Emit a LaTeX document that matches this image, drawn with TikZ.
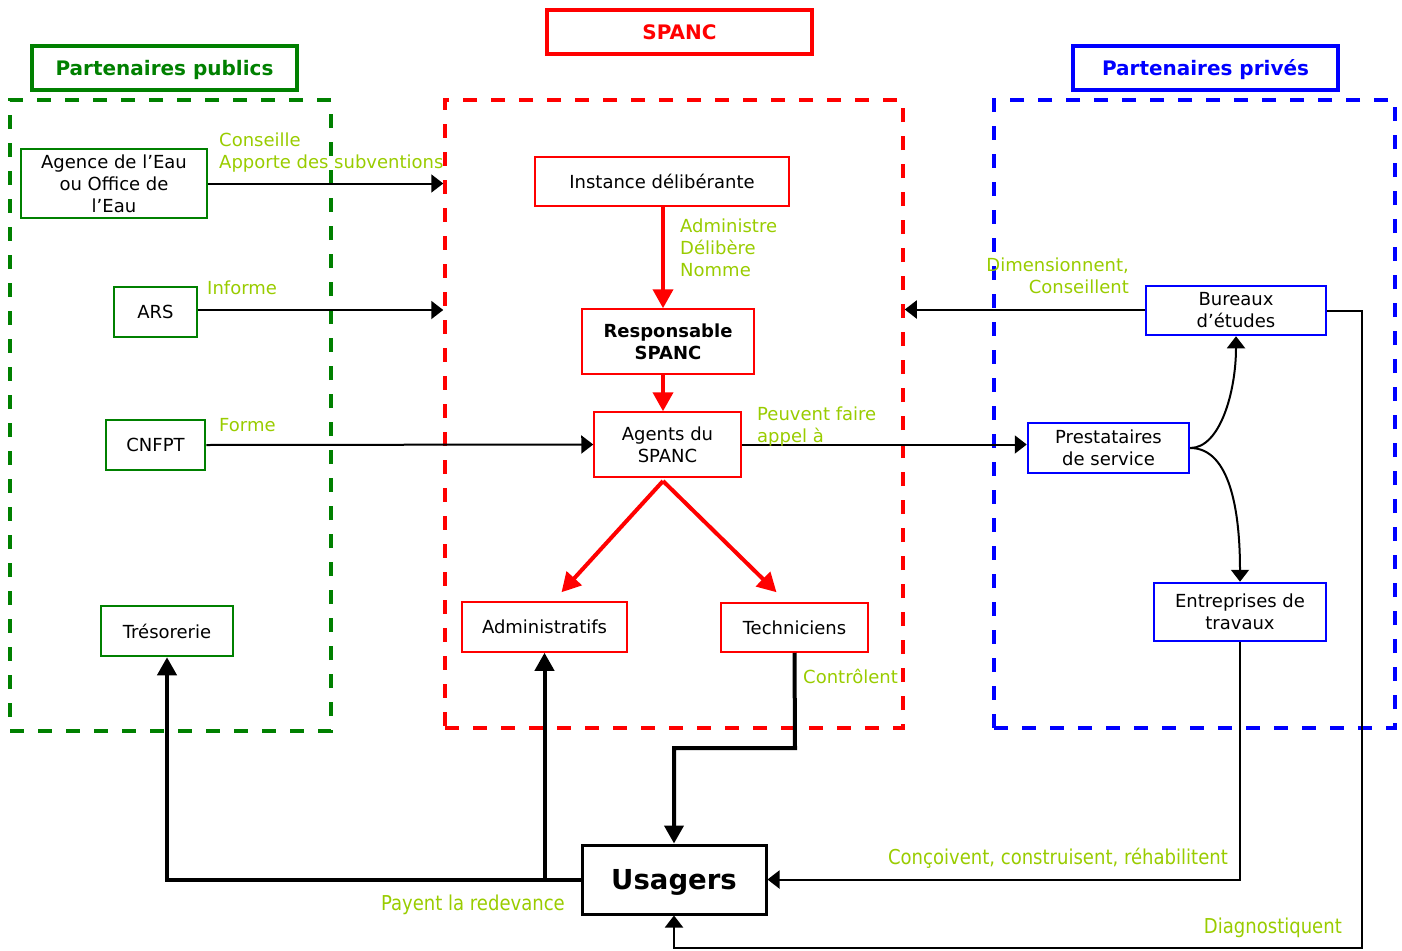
\documentclass[tikz,border=0pt]{standalone}
\usepackage{fontspec}
\setmainfont{DejaVu Sans}
\newfontfamily\condfont[FakeStretch=0.88]{DejaVu Sans}
\usepackage{tikz}
\usetikzlibrary{arrows.meta}
\usepackage{color}
\definecolor{lbl}{RGB}{153,204,0}
\definecolor{pubgreen}{RGB}{0,128,0}

\begin{document}
\begin{tikzpicture}[x=1pt,y=-1pt,
              txt/.style={font=\fontsize{18}{22}\selectfont,align=center,inner sep=0pt},
              pub/.style={txt,draw=pubgreen,line width=2.5pt},
              spc/.style={txt,draw=red,line width=1.5pt},
              prv/.style={txt,draw=blue,line width=2.5pt},
              titre/.style={draw,line width=3.5pt,inner sep=0pt,text depth=0pt,minimum width=265pt,minimum height=44pt,font=\fontsize{20}{24}\selectfont\bfseries},
              zone/.style={dash pattern=on 14pt off 14pt,line width=3.5pt,inner sep=0pt},
              lab/.style={text=lbl,font=\fontsize{18}{22}\selectfont,inner sep=0pt},
              clab/.style={text=lbl,font=\condfont\fontsize{20.5}{24}\selectfont,inner sep=0pt},
              fin/.style={-{Triangle[length=12pt,width=18pt]},line width=2pt},
              gros/.style={-{Triangle[length=18pt,width=19pt]},line width=4pt},
              rouge/.style={-{Triangle[length=19pt,width=20pt]},line width=4pt,color=red}]
              %\draw[help lines](0,0) grid(1402,950);
              \useasboundingbox (0,0) rectangle (1402,950);
              % les trois zones
              \node[zone,draw=pubgreen,minimum width=321pt,minimum height=631pt] (pubzone) at (170.5,415.5) {};
              \node[zone,draw=red,minimum width=458pt,minimum height=628pt] (spanczone) at (674,414) {};
              \node[zone,draw=blue,minimum width=401pt,minimum height=628pt] (privzone) at (1194.5,414) {};
              \node[titre,draw=pubgreen,text=pubgreen] (pubtitre) at (164.5,68) {Partenaires publics};
              \node[titre,draw=red,text=red] (spanctitre) at (679.5,32) {SPANC};
              \node[titre,draw=blue,text=blue] (privtitre) at (1205.5,68) {Partenaires privés};
              % partenaires publics
              \node[pub,minimum width=186pt,minimum height=69pt] (agence) at (114,183.5) {Agence de l’Eau\\ou Office de\\l’Eau};
              \node[pub,minimum width=83pt,minimum height=50pt] (ars) at (155.5,312) {ARS};
              \node[pub,minimum width=99pt,minimum height=50pt] (cnfpt) at (155.5,445) {CNFPT};
              \node[pub,minimum width=132pt,minimum height=50pt] (tresor) at (167,631) {Trésorerie};
              % SPANC
              \node[spc,minimum width=254pt,minimum height=49pt] (instance) at (662,181.5) {Instance délibérante};
              \node[spc,minimum width=172pt,minimum height=65pt,font=\fontsize{18}{22}\selectfont\bfseries] (resp) at (668,341.5) {Responsable\\SPANC};
              \node[spc,minimum width=147pt,minimum height=65pt] (agents) at (667.5,444.5) {Agents du\\SPANC};
              \node[spc,minimum width=165pt,minimum height=50pt] (admin) at (544.5,627) {Administratifs};
              \node[spc,minimum width=147pt,minimum height=49pt] (tech) at (794.5,627.5) {Techniciens};
              % partenaires prives
              \node[prv,minimum width=180pt,minimum height=49pt] (bureaux) at (1236,310.5) {Bureaux\\d’études};
              \node[prv,minimum width=161pt,minimum height=50pt] (presta) at (1108.5,448) {Prestataires\\de service};
              \node[prv,minimum width=172pt,minimum height=58pt] (entre) at (1240,612) {Entreprises de\\travaux};
              \node[txt,draw,line width=3pt,text depth=0pt,minimum width=184pt,minimum height=69pt,font=\fontsize{27.5}{32}\selectfont\bfseries] (usagers) at (674,879.5) {Usagers};
              % liens
              \draw[fin] (agence.east) -- (agence.east -| spanczone.west);
              \draw[fin] ([yshift=2pt]ars.east) -- ([yshift=2pt]ars.east -| spanczone.west);
              \draw[fin] (cnfpt.east) -- (agents.west);
              \draw[fin] (agents.east) -- (agents.east -| presta.west);
              \draw[fin] ([yshift=1pt]bureaux.west) -- ([yshift=1pt]bureaux.west -| spanczone.east);
              \draw[fin] (presta.east) .. controls +(30,0) and +(0,55) .. (bureaux.south);
              \draw[fin] (presta.east) .. controls +(40,0) and +(0,-70) .. (entre.north);
              \draw[fin] (entre.south) |- (usagers.east);
              \coordinate (diagcoin) at (1362,948);
              \draw[fin] (bureaux.east) -| (diagcoin) -| (usagers.south);
              \coordinate (agentsbas) at (663,481);
              \draw[rouge] (instance.south -| agentsbas) -- (resp.north -| agentsbas);
              \draw[rouge] (resp.south -| agentsbas) -- (agents.north -| agentsbas);
              \draw[rouge] (agentsbas) -- ([xshift=17pt,yshift=9pt]admin.north);
              \draw[rouge] (agentsbas) -- ([xshift=-18pt,yshift=10pt]tech.north);
              \coordinate (ctrlcoin) at (795,748);
              \draw[gros] (tech.south) -- (ctrlcoin) -| (usagers.north);
              \draw[gros] (usagers.west) -| (tresor.south);
              \coordinate (payecoin) at (544.5,879.5);
              \draw[gros] (payecoin) -- (admin.south);
              % textes des liens
              \node[lab,anchor=west,align=left] (lconseil) at (219,153) {Conseille\\Apporte des subventions};
              \node[lab,anchor=west] (linforme) at (207,288) {Informe};
              \node[lab,anchor=west] (lforme) at (219,425) {Forme};
              \node[lab,anchor=west,align=left] (ladmin) at (680,247.5) {Administre\\Délibère\\Nomme};
              \node[lab,anchor=west,align=left] (lpeuvent) at (757,426.5) {Peuvent faire\\appel à};
              \node[lab,anchor=east,align=right] (ldimens) at (1129,276) {Dimensionnent,\\Conseillent};
              \node[lab,anchor=west] (lcontrole) at (803,676) {Contrôlent};
              \node[clab,anchor=east] (lpayent) at (565,905) {Payent la redevance};
              \node[clab,anchor=east] (lconcoit) at (1228,858) {Conçoivent, construisent, réhabilitent};
              \node[clab,anchor=east] (ldiag) at (1342,928) {Diagnostiquent};
            \end{tikzpicture}
\end{document}
